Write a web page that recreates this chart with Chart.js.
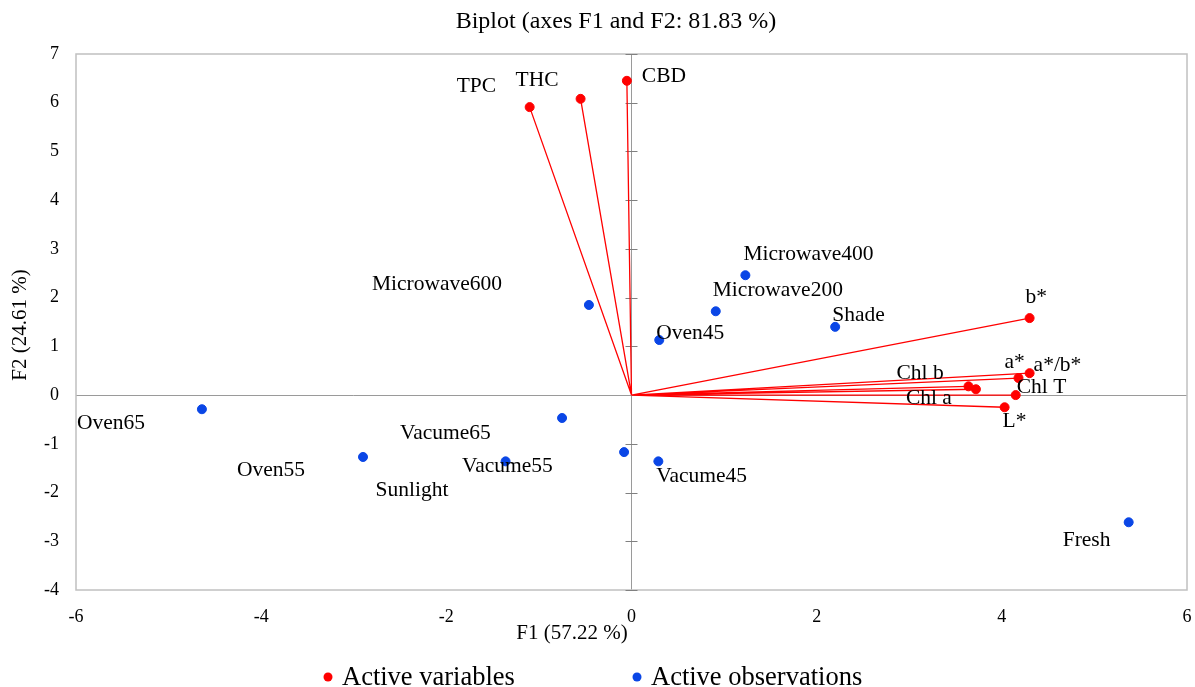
<!DOCTYPE html>
<html>
<head>
<meta charset="utf-8">
<script src="https://cdn.jsdelivr.net/npm/chart.js@4.4.0/dist/chart.umd.min.js"></script>
<style>
  html,body{margin:0;padding:0;background:#fff}
  #wrap{width:1195px;height:687px}
</style>
</head>
<body>
<div id="wrap"><canvas id="biplot"></canvas></div>
<script>
// active variables (vectors)
const varNames = ['TPC','THC','CBD','b*','a*/b*','a*','Chl T','Chl b','Chl a','L*'];
const varF1 = [-1.10, -0.55, -0.05, 4.30, 4.30, 4.18, 4.15, 3.64, 3.72, 4.03];
const varF2 = [ 5.91,  6.08,  6.45, 1.58, 0.45, 0.35, 0.00, 0.18, 0.12, -0.25];

// active observations
const obsNames = ['Oven65','Oven55','Sunlight','Vacume65','Vacume55','Vacume45','Microwave600','Oven45','Microwave200','Microwave400','Shade','Fresh'];
const obsF1 = [-4.64, -2.90, -1.36, -0.75, -0.08, 0.29, -0.46, 0.30, 0.91, 1.23, 2.20, 5.37];
const obsF2 = [-0.29, -1.27, -1.36, -0.47, -1.17, -1.36, 1.85, 1.13, 1.72, 2.46, 1.40, -2.61];

const xTickVals = [-6,-4,-2,0,2,4,6];
const yTickVals = [-4,-3,-2,-1,0,1,2,3,4,5,6,7];

// where each label sits relative to its point (px: text left edge, text middle)
const varLabelPos = [[-73,-21],[-65,-18],[15,-4],[-4,-21],[4,-8],[-14,-16],[1,-8],[-72,-13],[-70,9],[-2,14]];
const obsLabelPos = [[-125,14],[-126,13],[-130,29],[-162,15],[-162,14],[-2,15],[-217,-21],[-3,-7],[-3,-21],[-2,-21],[-3,-12],[-66,18]];

const RED = '#ff0000', BLUE = '#0a46e6';
const SERIF = '"Liberation Serif", "Times New Roman", serif';

// vectors from origin, broken with null points
const vecData = [];
varF1.forEach((v,i)=>{ vecData.push({x:0,y:0},{x:v,y:varF2[i]},{x:v,y:null}); });

const deco = {
  id:'deco',
  beforeDatasetsDraw(chart){
    const {ctx, chartArea:a, scales:{x,y}} = chart;
    ctx.save();
    ctx.strokeStyle = '#c0c0c0'; ctx.lineWidth = 1.5;
    ctx.strokeRect(a.left, a.top, a.right-a.left, a.bottom-a.top);
    const x0 = x.getPixelForValue(0);
    ctx.strokeStyle = '#808080'; ctx.lineWidth = 1;
    yTickVals.forEach(v=>{
      if(v===0) return;
      const py = Math.round(y.getPixelForValue(v))+0.5;
      ctx.beginPath(); ctx.moveTo(x0-6,py); ctx.lineTo(x0+6,py); ctx.stroke();
    });
    ctx.restore();
  },
  afterDatasetsDraw(chart){
    const ctx = chart.ctx;
    ctx.save();
    ctx.fillStyle = '#000'; ctx.font = '21.5px ' + SERIF;
    ctx.textAlign = 'left'; ctx.textBaseline = 'middle';
    const put = (dsIndex, names, pos)=>{
      chart.getDatasetMeta(dsIndex).data.forEach((pt,i)=>{
        ctx.fillText(names[i], pt.x + pos[i][0], pt.y + pos[i][1]);
      });
    };
    put(1, varNames, varLabelPos);
    put(2, obsNames, obsLabelPos);
    ctx.restore();
  },
  afterDraw(chart){
    const {ctx, chartArea:a} = chart;
    ctx.save();
    ctx.fillStyle = '#000'; ctx.textBaseline = 'middle';
    // title
    ctx.font = '24px ' + SERIF; ctx.textAlign = 'center';
    ctx.fillText('Biplot (axes F1 and F2: 81.83 %)', 616, 22);
    // axis titles
    ctx.font = '21px ' + SERIF;
    ctx.fillText('F1 (57.22 %)', 572, a.bottom + 43);
    ctx.save();
    ctx.translate(20, (a.top+a.bottom)/2 + 3); ctx.rotate(-Math.PI/2);
    ctx.fillText('F2 (24.61 %)', 0, 0);
    ctx.restore();
    // legend
    ctx.font = '26.5px ' + SERIF; ctx.textAlign = 'left';
    [[RED,'Active variables',328],[BLUE,'Active observations',637]].forEach(([c,t,lx])=>{
      ctx.fillStyle = c; ctx.beginPath(); ctx.arc(lx, 677, 4.5, 0, Math.PI*2); ctx.fill();
      ctx.fillStyle = '#000'; ctx.fillText(t, lx+14, 678);
    });
    ctx.restore();
  }
};

const zeroOnly = c => (c.tick && c.tick.value === 0) ? '#9a9a9a' : 'rgba(0,0,0,0)';

new Chart(document.getElementById('biplot'), {
  type: 'scatter',
  data: {
    datasets: [
      { label:'vectors', data: vecData, showLine:true, borderColor:RED, borderWidth:1.3,
        pointRadius:0, pointHoverRadius:0, spanGaps:false, order:3 },
      { label:'Active variables', data: varF1.map((v,i)=>({x:v,y:varF2[i]})),
        backgroundColor:RED, borderColor:RED, pointRadius:4.5, order:2 },
      { label:'Active observations', data: obsF1.map((v,i)=>({x:v,y:obsF2[i]})),
        backgroundColor:BLUE, borderColor:BLUE, pointRadius:4.5, order:1 }
    ]
  },
  options: {
    responsive:true, maintainAspectRatio:false, animation:false,
    layout: { padding: { top:54, right:8, bottom:0, left:0 } },
    plugins: { legend:{display:false}, title:{display:false}, tooltip:{enabled:false} },
    scales: {
      x: {
        min:-6, max:6,
        afterBuildTicks: s => { s.ticks = xTickVals.map(value=>({value})); },
        afterFit: s => { s.height = 97; s.paddingLeft = 0; s.paddingRight = 0; },
        grid: { color: zeroOnly, drawTicks:false, lineWidth:1 },
        border: { display:false },
        ticks: { color:'#000', font:{family:SERIF, size:18}, padding:16, maxRotation:0 }
      },
      y: {
        min:-4, max:7,
        afterBuildTicks: s => { s.ticks = yTickVals.map(value=>({value})); },
        afterFit: s => { s.width = 76; s.paddingTop = 0; s.paddingBottom = 0; },
        grid: { color: zeroOnly, drawTicks:false, lineWidth:1 },
        border: { display:false },
        ticks: { color:'#000', font:{family:SERIF, size:18}, padding:17 }
      }
    }
  },
  plugins: [deco]
});
</script>
</body>
</html>
